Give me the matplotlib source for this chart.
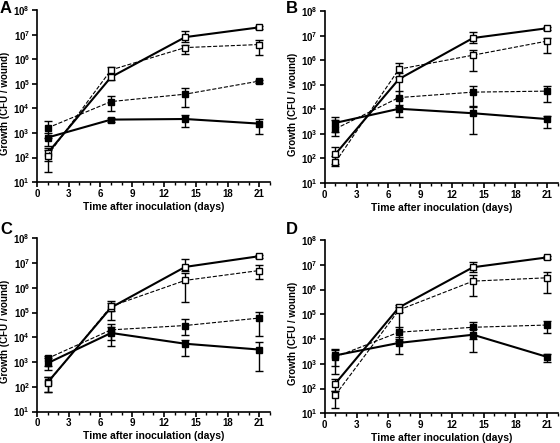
import matplotlib
matplotlib.use("Agg")
import matplotlib.pyplot as plt
import numpy as np

plt.rcParams["font.family"] = ["Liberation Sans", "DejaVu Sans"]
plt.rcParams["font.weight"] = "bold"
plt.rcParams["mathtext.fontset"] = "custom"
plt.rcParams["mathtext.rm"] = "Liberation Sans:bold"
plt.rcParams["mathtext.bf"] = "Liberation Sans:bold"
plt.rcParams["mathtext.default"] = "bf"

# --- data: days post inoculation, CFU per wound (mean, lower, upper) ---
days = [1, 7, 14, 21]
panels = ["A", "B", "C", "D"]

# open squares, solid line
open_solid = {
    "A": ([1.5e2, 1.9e5, 8e6, 2e7], [2.5e1, 1.5e5, 5e6, 1.7e7], [2.5e2, 2.5e5, 1.4e7, 2.3e7]),
    "B": ([1.5e2, 1.7e5, 8e6, 2e7], [6e1, 3e4, 5e6, 1.7e7], [3e2, 3e5, 1.4e7, 2.3e7]),
    "C": ([1.5e2, 1.6e5, 7e6, 1.9e7], [6e1, 5e4, 5e6, 1.6e7], [2.5e2, 3e5, 1.4e7, 2.2e7]),
    "D": ([1.6e2, 1.9e5, 8e6, 2e7], [8e1, 1.3e5, 5e6, 1.7e7], [2.5e2, 2.3e5, 1.3e7, 2.3e7]),
}
# open squares, dashed line
open_dashed = {
    "A": ([1.2e2, 3.7e5, 3e6, 4e6], [7e1, 2.5e5, 1.7e6, 1.5e6], [2e2, 5e5, 4e6, 6e6]),
    "B": ([7e1, 4.3e5, 1.6e6, 6e6], [5e1, 2e5, 3.7e5, 2e6], [1.2e2, 8e5, 2.5e6, 8e6]),
    "C": ([1.4e2, 1.8e5, 2e6, 5e6], [6e1, 1.2e5, 2.8e5, 2.2e6], [2.5e2, 2.5e5, 4e6, 8e6]),
    "D": ([5.5e1, 1.5e5, 2.2e6, 3e6], [1.7e1, 1.2e4, 5.5e5, 7.5e5], [8e1, 2e5, 4e6, 5e6]),
}
# filled squares, dashed line
filled_dashed = {
    "A": ([1.6e3, 1.9e4, 3.8e4, 1.3e5], [6e2, 8e3, 1.1e4, 1.1e5], [3e3, 3.3e4, 6.5e4, 1.5e5]),
    "B": ([1.6e3, 3e4, 5e4, 5.5e4], [8e2, 1.2e4, 1.2e4, 2e4], [3.5e3, 5.5e4, 9e4, 9e4]),
    "C": ([1.4e3, 2e4, 3e4, 6e4], [7e2, 8e3, 1.2e4, 1.1e4], [1.8e3, 3.5e4, 5.5e4, 1.1e5]),
    "D": ([1.9e3, 1.9e4, 3e4, 3.7e4], [8e2, 8e3, 1e4, 1.8e4], [4e3, 3e4, 5e4, 5.5e4]),
}
# filled squares, solid line
filled_solid = {
    "A": ([6.5e2, 3.5e3, 3.7e3, 2.4e3], [3e2, 2.8e3, 1.7e3, 9e2], [1e3, 4.2e3, 5.5e3, 3.8e3]),
    "B": ([2.8e3, 1.05e4, 6.9e3, 4e3], [1.2e3, 5e3, 1e3, 1.8e3], [5e3, 1.5e4, 1.3e4, 5.5e3]),
    "C": ([9e2, 1.5e4, 5.5e3, 3.2e3], [5e2, 4.5e3, 1.7e3, 4.2e2], [1.4e3, 2.5e4, 8e3, 6.5e3]),
    "D": ([2.2e3, 7e3, 1.5e4, 1.9e3], [4e2, 2.5e3, 3e3, 1.2e3], [3.5e3, 1e4, 2.5e4, 2.5e3]),
}

# axes rectangles in figure fractions (left, bottom, width, height)
rects = {
    "A": (0.066, 0.589, 0.416, 0.388),
    "B": (0.580, 0.587, 0.416, 0.388),
    "C": (0.066, 0.071, 0.416, 0.391),
    "D": (0.580, 0.067, 0.416, 0.391),
}
# panel letter positions (figure fractions, top-left)
letter_pos = {
    "A": (0.000, 0.997),
    "B": (0.510, 0.997),
    "C": (0.000, 0.500),
    "D": (0.510, 0.500),
}

series = [
    (open_solid, "white", "-", 1.5),
    (open_dashed, "white", "--", 0.8),
    (filled_dashed, "black", "--", 0.8),
    (filled_solid, "black", "-", 1.5),
]

fig = plt.figure(figsize=(5.6, 4.43), dpi=100)

for p in panels:
    ax = fig.add_axes(rects[p])
    for data, face, ls, lw in series:
        mean, lo, hi = (np.array(v) for v in data[p])
        ax.errorbar(days, mean, yerr=[mean - lo, hi - mean], color="black",
                    ls=ls, lw=lw, marker="s", ms=5, mfc=face, mec="black",
                    mew=1.0, ecolor="black", elinewidth=1.0, capsize=3,
                    capthick=1.0)
    ax.set_yscale("log")
    ax.set_ylim(1e1, 1e8)
    ax.set_xlim(0, 22)
    ax.set_xticks(range(0, 22, 3))
    ax.set_xticks(range(0, 23), minor=True)
    ax.set_yticks([10.0 ** k for k in range(1, 9)])
    ax.yaxis.set_minor_locator(matplotlib.ticker.NullLocator())
    ax.spines["top"].set_visible(False)
    ax.spines["right"].set_visible(False)
    ax.spines["left"].set_linewidth(1.2)
    ax.spines["bottom"].set_linewidth(1.2)
    ax.tick_params(axis="both", which="major", labelsize=7, length=3.5,
                   width=1.2, pad=1.5)
    ax.tick_params(axis="x", which="minor", length=2, width=1.0)
    ax.set_xlabel("Time after inoculation (days)", fontsize=7.5,
                  fontweight="bold", labelpad=2)
    ax.set_ylabel("Growth (CFU / wound)", fontsize=7, fontweight="bold")
    ax.yaxis.set_label_coords(-0.115, 0.46)
    fig.text(letter_pos[p][0], letter_pos[p][1], p, fontsize=12,
             fontweight="bold", va="top", ha="left")

fig.savefig("out.png", dpi=100)
